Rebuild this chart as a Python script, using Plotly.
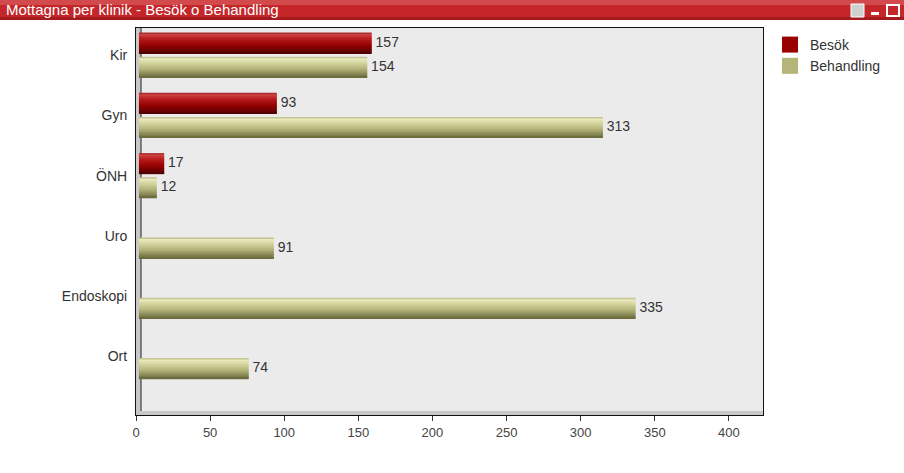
import plotly.graph_objects as go

categories = ["Kir", "Gyn", "ÖNH", "Uro", "Endoskopi", "Ort"]
besok = [157, 93, 17, None, None, None]
behandling = [154, 313, 12, 91, 335, 74]
series_names = ["Besök", "Behandling"]
x_ticks = [0, 50, 100, 150, 200, 250, 300, 350, 400]

# styling
W, H = 904, 473
L, R, T, B = 136, 141, 28, 58
PW, PH = W - L - R, H - T - B
FONT = "Liberation Sans"
besok_stops = [(0.0, "#8a1a1a"), (0.08, "#d04848"), (0.3, "#b81c1c"), (0.6, "#960202"), (1.0, "#4e0000")]
beh_stops = [(0.0, "#a4a470"), (0.08, "#ececc0"), (0.3, "#d4d49e"), (0.6, "#b0b076"), (1.0, "#66663a")]
legend_colors = ["#990000", "#b5b57a"]
thick = 0.35
offsets = [-0.2, 0.2]
NSTRIP = 14


def hex2rgb(h):
    return tuple(int(h[i:i + 2], 16) for i in (1, 3, 5))


def grad(stops, t):
    for (t0, c0), (t1, c1) in zip(stops[:-1], stops[1:]):
        if t0 <= t <= t1:
            f = (t - t0) / (t1 - t0) if t1 > t0 else 0
            a, b = hex2rgb(c0), hex2rgb(c1)
            return "rgb(%d,%d,%d)" % tuple(round(a[i] + (b[i] - a[i]) * f) for i in range(3))
    return stops[-1][1]


fig = go.Figure()
ypos = list(range(len(categories)))

for vals, stops, c in [(besok, besok_stops, offsets[0]), (behandling, beh_stops, offsets[1])]:
    sw = thick / NSTRIP
    for k in range(NSTRIP):
        col = grad(stops, (k + 0.5) / NSTRIP)
        fig.add_trace(go.Bar(
            x=vals, y=ypos, orientation="h", base=2,
            width=sw * 1.6 if k < NSTRIP - 1 else sw, offset=c - thick / 2 + k * sw,
            marker=dict(color=col, line=dict(width=0)),
            showlegend=False, hoverinfo="skip",
        ))
    fig.add_trace(go.Scatter(
        x=[None if v is None else v + 2 for v in vals], y=[i + c for i in ypos], mode="text",
        text=[("" if v is None else " " + str(v)) for v in vals],
        textposition="middle right",
        textfont=dict(family=FONT, size=14, color="#333333"),
        showlegend=False, hoverinfo="skip",
    ))

for name, col in zip(series_names, legend_colors):
    fig.add_trace(go.Scatter(x=[None], y=[None], name=name, mode="markers",
                             marker=dict(color=col, symbol="square", size=16, line=dict(width=0))))


def px_x(p):
    return (p - L) / PW


def px_y(p):
    return 1 - (p - T) / PH


shapes = [
    # title bar
    dict(type="rect", xref="paper", yref="paper", x0=px_x(0), x1=px_x(W), y0=px_y(20), y1=px_y(0),
         fillcolor="#c4262a", line=dict(width=0), layer="above"),
    dict(type="rect", xref="paper", yref="paper", x0=px_x(0), x1=px_x(W), y0=px_y(5), y1=px_y(0),
         fillcolor="#d24a4c", line=dict(width=0), layer="above"),
    dict(type="rect", xref="paper", yref="paper", x0=px_x(0), x1=px_x(W), y0=px_y(20), y1=px_y(17),
         fillcolor="#a51a1c", line=dict(width=0), layer="above"),
    # icons
    dict(type="rect", xref="paper", yref="paper", x0=px_x(851), x1=px_x(864), y0=px_y(17), y1=px_y(4),
         fillcolor="#cfcfcf", line=dict(color="#ffffff", width=1), layer="above"),
    dict(type="rect", xref="paper", yref="paper", x0=px_x(871), x1=px_x(879), y0=px_y(15), y1=px_y(12),
         fillcolor="#ffffff", line=dict(width=0), layer="above"),
    dict(type="rect", xref="paper", yref="paper", x0=px_x(887), x1=px_x(899), y0=px_y(16), y1=px_y(5),
         fillcolor="rgba(0,0,0,0)", line=dict(color="#ffffff", width=2), layer="above"),
    # 3D left wall and floor
    dict(type="rect", xref="paper", yref="paper", x0=0, x1=px_x(141), y0=0, y1=1,
         fillcolor="#c8c8c8", line=dict(width=0), layer="below"),
    dict(type="line", xref="paper", yref="paper", x0=px_x(141), x1=px_x(141), y0=px_y(411), y1=1,
         line=dict(color="#222222", width=1), layer="below"),
    dict(type="rect", xref="paper", yref="paper", x0=0, x1=1, y0=0, y1=px_y(411),
         fillcolor="#c8c8c8", line=dict(width=0), layer="below"),
]

annotations = [
    dict(text="Mottagna per klinik - Besök o Behandling", xref="paper", yref="paper",
         x=px_x(4), y=px_y(10), xanchor="left", yanchor="middle", showarrow=False,
         font=dict(family=FONT, size=15, color="#ffffff")),
]

fig.update_layout(
    width=W, height=H,
    margin=dict(l=L, r=R, t=T, b=B, pad=0),
    paper_bgcolor="#ffffff", plot_bgcolor="#ebebeb",
    barmode="overlay",
    font=dict(family=FONT, size=14, color="#333333"),
    shapes=shapes, annotations=annotations,
    legend=dict(x=px_x(770), y=px_y(29), xanchor="left", yanchor="top",
                font=dict(family=FONT, size=14, color="#333333"),
                bgcolor="rgba(0,0,0,0)", tracegroupgap=0, itemwidth=30, itemsizing="trace"),
    xaxis=dict(range=[0, 423], tickvals=x_ticks, showgrid=False, zeroline=False,
               showline=True, linecolor="#111111", linewidth=1, mirror=True,
               ticks="outside", ticklen=5, tickcolor="#333333",
               tickfont=dict(family=FONT, size=13, color="#444444")),
    yaxis=dict(range=[5.97, -0.45], tickvals=ypos, ticktext=categories, showgrid=False,
               zeroline=False, showline=True, linecolor="#111111", linewidth=1, mirror=True,
               ticks="", ticklabelstandoff=5,
               tickfont=dict(family=FONT, size=14, color="#333333")),
)

fig.write_html("out.html", post_script="document.body.style.margin='0px';",
               config={"displayModeBar": False})
